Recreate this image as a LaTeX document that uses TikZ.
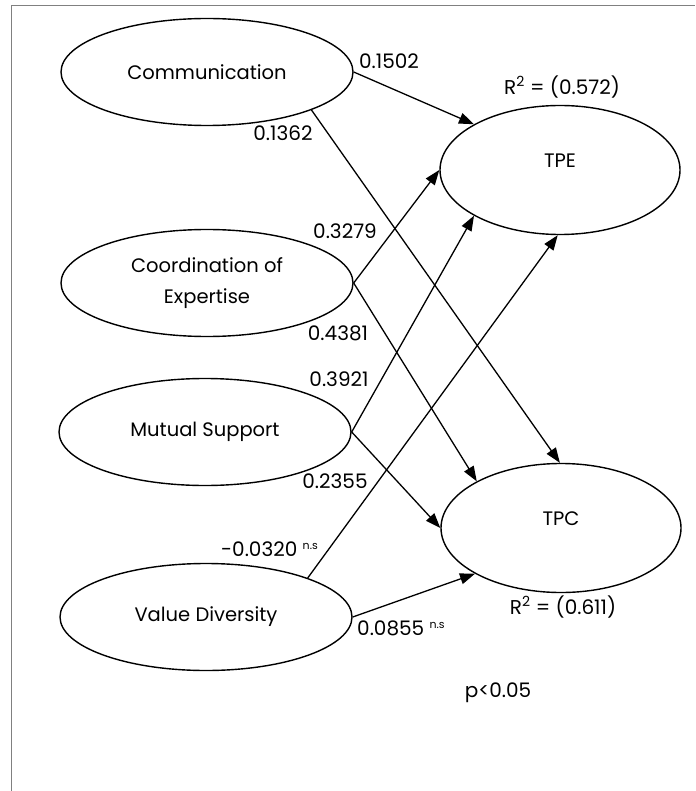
\documentclass[tikz,border=0pt]{standalone}
\usepackage{fontspec}
\setmainfont{Poppins}
\usetikzlibrary{shapes.geometric,arrows.meta}

\begin{document}
\begin{tikzpicture}[x=1pt,y=-1pt,
  latent/.style={ellipse, draw, line width=1.4pt, inner sep=0pt, minimum width=292pt, minimum height=107pt, align=center, font=\fontsize{19.5}{31}\selectfont},
  outcome/.style={latent, minimum width=240pt, minimum height=129pt},
  effect/.style={-{Triangle[length=15pt,width=11pt]}, line width=1.3pt},
  coef/.style={inner sep=0pt, font=\fontsize{20}{22}\selectfont}]
  \useasboundingbox (0,0) rectangle (695,791);
  \draw[gray, line width=1pt] (11,791) -- (11,6) -- (695,6);
  % constructs
  \node[latent] (COM) at (207,72) {Communication};
  \node[latent] (COE) at (207,283) {Coordination of\\Expertise};
  \node[latent] (MS) at (205,432) {Mutual Support};
  \node[latent] (VD) at (206,617) {Value Diversity};
  \node[outcome] (TPE) at (560,170) {TPE\rule[-18pt]{0pt}{0pt}};
  \node[outcome] (TPC) at (561,528) {TPC\rule[-18pt]{0pt}{0pt}};
  % paths
  \draw[effect] (COM.east) -- (TPE.152);
  \draw[effect] (COM.340) -- (TPC.91);
  \draw[effect] (COE.east) -- (TPE.180);
  \draw[effect] (COE.east) -- (TPC.151);
  \draw[effect] (MS.east) -- (TPE.208);
  \draw[effect] (MS.east) -- (TPC.180);
  \draw[effect] (VD.21) -- (TPE.268);
  \draw[effect] (VD.east) -- (TPC.208);
  % coefficients
  \node[coef] (c1) at (389,61) {0.1502};
  \node[coef] (c2) at (283,133) {0.1362};
  \node[coef] (c3) at (345,231) {0.3279};
  \node[coef] (c4) at (338,333) {0.4381};
  \node[coef] (c5) at (339,379) {0.3921};
  \node[coef] (c6) at (335,481) {0.2355};
  \node[coef, anchor=west] (c7) at (221,549) {-0.0320 \raisebox{0.6ex}{\fontsize{11}{11}\selectfont n.s}};
  \node[coef, anchor=west] (c8) at (357,628) {0.0855 \raisebox{0.6ex}{\fontsize{11}{11}\selectfont n.s}};
  \node[coef] (r1) at (562,87) {R\textsuperscript{2} = (0.572)};
  \node[coef] (r2) at (563,607) {R\textsuperscript{2} = (0.611)};
  \node[coef] (p) at (498,693) {p<0.05};
\end{tikzpicture}
\end{document}
